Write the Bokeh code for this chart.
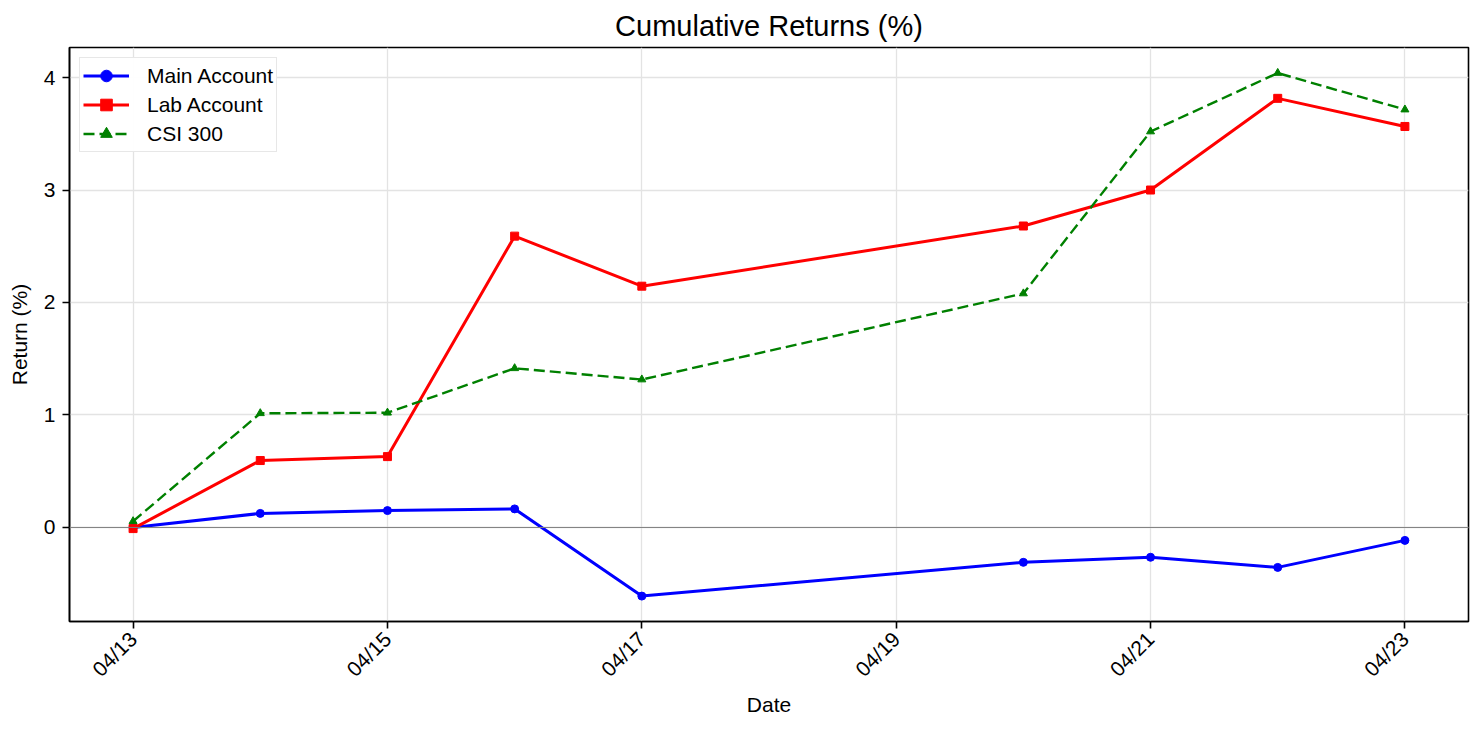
from datetime import datetime
from bokeh.plotting import figure
from bokeh.models import (FixedTicker, Span, Range1d, Legend, LegendItem)
from bokeh.embed import file_html
from bokeh.resources import INLINE
import math

dates = ["2026-04-13", "2026-04-14", "2026-04-15", "2026-04-16", "2026-04-17",
         "2026-04-20", "2026-04-21", "2026-04-22", "2026-04-23"]
main_account = [0.0, 0.125, 0.15, 0.165, -0.61, -0.31, -0.265, -0.355, -0.115]
lab_account = [-0.01, 0.595, 0.63, 2.59, 2.145, 2.68, 3.0, 3.815, 3.565]
csi300 = [0.055, 1.015, 1.02, 1.415, 1.315, 2.08, 3.52, 4.04, 3.715]
tick_dates = ["2026-04-13", "2026-04-15", "2026-04-17", "2026-04-19", "2026-04-21", "2026-04-23"]
tick_labels = ["04/13", "04/15", "04/17", "04/19", "04/21", "04/23"]
y_ticks = [0, 1, 2, 3, 4]

x = [datetime.strptime(d, "%Y-%m-%d") for d in dates]
def ms(d):
    return (d - datetime(1970, 1, 1)).total_seconds() * 1000.0
xt = [ms(datetime.strptime(d, "%Y-%m-%d")) for d in tick_dates]

FONT = "Liberation Sans"
FS = "21px"

p = figure(width=1475, height=722, x_axis_type="datetime",
           output_backend="svg", toolbar_location=None,
           min_border_left=69, min_border_right=7, min_border_top=47, min_border_bottom=101)
x0, x1 = ms(x[0]), ms(x[-1])
pad = (x1 - x0) * 0.05
p.x_range = Range1d(x0 - pad, x1 + pad)
ymin, ymax = -0.836, 4.267
p.y_range = Range1d(ymin, ymax)

p.title.text = "Cumulative Returns (%)"
p.title.align = "center"
p.title.text_font = FONT
p.title.text_font_size = "29px"
p.title.text_font_style = "normal"
p.title.text_color = "black"
p.title.standoff = 11

p.xaxis.ticker = FixedTicker(ticks=xt)
p.xaxis.major_label_overrides = {t: l for t, l in zip(xt, tick_labels)}
p.xaxis.major_label_orientation = math.pi / 4
p.yaxis.ticker = FixedTicker(ticks=y_ticks)
p.xaxis.axis_label = "Date"
p.yaxis.axis_label = "Return (%)"
for ax in (p.xaxis, p.yaxis):
    ax.axis_label_text_font = FONT
    ax.axis_label_text_font_size = FS
    ax.axis_label_text_font_style = "normal"
    ax.axis_label_text_color = "black"
    ax.major_label_text_font = FONT
    ax.major_label_text_font_size = FS
    ax.major_label_text_color = "black"
    ax.minor_tick_line_color = None
    ax.major_tick_in = 0
    ax.major_tick_out = 7
    ax.major_tick_line_width = 1.6
    ax.axis_line_width = 1.6
    ax.axis_line_color = "black"
    ax.major_tick_line_color = "black"
p.yaxis.major_label_standoff = 7
p.xaxis.major_label_standoff = 7
p.xaxis.axis_label_standoff = 1
p.yaxis.axis_label_standoff = 10

p.outline_line_color = "black"
p.outline_line_width = 1.6
p.xgrid.ticker = FixedTicker(ticks=xt)
p.ygrid.ticker = FixedTicker(ticks=y_ticks)
p.grid.grid_line_color = "#e3e3e3"
p.grid.grid_line_width = 1.3

p.add_layout(Span(location=0, dimension="width", line_color="gray", line_width=1))

l1 = p.line(x, main_account, line_color="blue", line_width=3)
s1 = p.scatter(x, main_account, marker="circle", size=8, color="blue")
l2 = p.line(x, lab_account, line_color="red", line_width=3)
s2 = p.scatter(x, lab_account, marker="square", size=8, color="red")
l3 = p.line(x, csi300, line_color="green", line_width=2.4, line_dash="11 5")
s3 = p.scatter(x, csi300, marker="triangle", size=8, color="green")

legend = Legend(items=[
    LegendItem(label="Main Account", renderers=[l1, s1]),
    LegendItem(label="Lab Account", renderers=[l2, s2]),
    LegendItem(label="CSI 300", renderers=[l3, s3]),
], location="top_left")
legend.label_text_font = FONT
legend.label_text_font_size = FS
legend.label_text_color = "black"
legend.label_height = 29
legend.glyph_height = 29
legend.border_line_color = "#d0d0d0"
legend.border_line_width = 1.5
legend.spacing = 0
legend.padding = 3
legend.margin = 10
legend.glyph_width = 46
legend.label_standoff = 18
p.add_layout(legend)

open("out.html", "w").write(file_html(p, INLINE))
